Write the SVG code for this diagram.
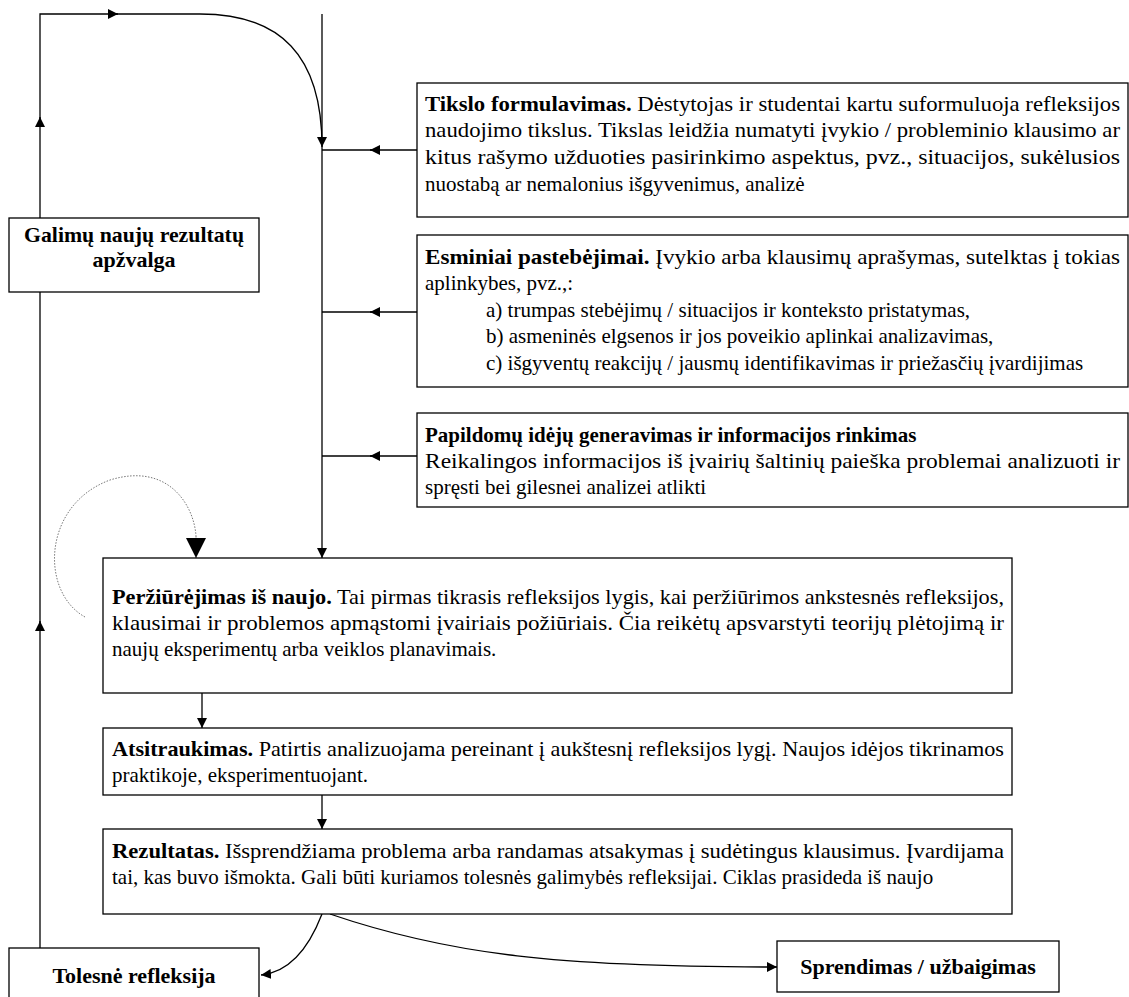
<svg xmlns="http://www.w3.org/2000/svg" width="1129" height="997" viewBox="0 0 1129 997">
  <style>
    .box { fill: #ffffff; stroke: #000000; stroke-width: 1.3; }
    .line { fill: none; stroke: #000000; stroke-width: 1.3; }
    .loop { fill: none; stroke: #777777; stroke-width: 1; stroke-dasharray: 1.5 1.5; }
    .t { font-family: "Liberation Serif", "Times New Roman", serif; font-size: 21px; fill: #000000; }
    .b { font-weight: bold; }
    .lbl { font-family: "Liberation Serif", "Times New Roman", serif; font-size: 22px; font-weight: bold; fill: #000000; }
  </style>
  <defs>
    <marker id="arr" viewBox="0 0 10 10" refX="10" refY="5" markerWidth="10" markerHeight="10" markerUnits="userSpaceOnUse" orient="auto">
      <path d="M0,0 L10,5 L0,10 Z" fill="#000000"/>
    </marker>
    <marker id="arrBig" viewBox="0 0 10 10" refX="10" refY="5" markerWidth="22" markerHeight="20" markerUnits="userSpaceOnUse" orient="auto">
      <path d="M0,0 L10,5 L0,10 Z" fill="#000000"/>
    </marker>
  </defs>

  <!-- connectors -->
  <g id="connectors">
    <!-- return loop from the top-left box to the central line -->
    <path class="line" d="M40,218 L40,117" marker-end="url(#arr)"/>
    <path class="line" d="M40,125 L40,14 L118,14" marker-end="url(#arr)"/>
    <path class="line" d="M110,14 L200,14 C280,14 322,55 322,147" marker-end="url(#arr)"/>
    <!-- central vertical line -->
    <path class="line" d="M322,14 L322,558" marker-end="url(#arr)"/>
    <!-- side boxes feeding the central line -->
    <path class="line" d="M417,150 L370,150" marker-end="url(#arr)"/>
    <path class="line" d="M375,150 L322,150"/>
    <path class="line" d="M417,312 L370,312" marker-end="url(#arr)"/>
    <path class="line" d="M375,312 L322,312"/>
    <path class="line" d="M417,456 L370,456" marker-end="url(#arr)"/>
    <path class="line" d="M375,456 L322,456"/>
    <!-- self loop on the review step -->
    <path class="loop" d="M85,617 C40,592 42,505 110,480 C168,462 194,505 196,536"/>
    <path class="loop" d="M196,536 L196,558" stroke="none" marker-end="url(#arrBig)"/>
    <!-- main chain -->
    <path class="line" d="M202,693 L202,728" marker-end="url(#arr)"/>
    <path class="line" d="M322,795 L322,829" marker-end="url(#arr)"/>
    <!-- left return line from the bottom-left box -->
    <path class="line" d="M40,948 L40,621" marker-end="url(#arr)"/>
    <path class="line" d="M40,630 L40,292"/>
    <!-- exits from the result box -->
    <path class="line" d="M322,914 C310,945 292,972 261,975" marker-end="url(#arr)"/>
    <path class="line" d="M330,914 C450,955 560,967 777,967" marker-end="url(#arr)"/>
  </g>

  <g id="node-galimu">
    <rect class="box" x="9" y="218" width="250" height="74"/>
    <text class="lbl" x="134" y="242" text-anchor="middle" textLength="220" lengthAdjust="spacingAndGlyphs">Galimų naujų rezultatų</text>
    <text class="lbl" x="134" y="267" text-anchor="middle">apžvalga</text>
  </g>

  <g id="node-tikslo">
    <rect class="box" x="417" y="83" width="711" height="134"/>
    <text class="t" x="425" y="111" textLength="695" lengthAdjust="spacingAndGlyphs"><tspan class="b">Tikslo formulavimas.</tspan> Dėstytojas ir studentai kartu suformuluoja refleksijos</text>
    <text class="t" x="425" y="137" textLength="695" lengthAdjust="spacingAndGlyphs">naudojimo tikslus. Tikslas leidžia numatyti įvykio / probleminio klausimo ar</text>
    <text class="t" x="425" y="164" textLength="695" lengthAdjust="spacingAndGlyphs">kitus rašymo užduoties pasirinkimo aspektus, pvz., situacijos, sukėlusios</text>
    <text class="t" x="425" y="191">nuostabą ar nemalonius išgyvenimus, analizė</text>
  </g>

  <g id="node-esminiai">
    <rect class="box" x="417" y="235" width="711" height="152"/>
    <text class="t" x="425" y="264" textLength="695" lengthAdjust="spacingAndGlyphs"><tspan class="b">Esminiai pastebėjimai.</tspan> Įvykio arba klausimų aprašymas, sutelktas į tokias</text>
    <text class="t" x="425" y="290">aplinkybes, pvz.,:</text>
    <text class="t" x="486" y="317">a) trumpas stebėjimų / situacijos ir konteksto pristatymas,</text>
    <text class="t" x="486" y="343">b) asmeninės elgsenos ir jos poveikio aplinkai analizavimas,</text>
    <text class="t" x="486" y="370">c) išgyventų reakcijų / jausmų identifikavimas ir priežasčių įvardijimas</text>
  </g>

  <g id="node-papildomu">
    <rect class="box" x="417" y="413" width="711" height="94"/>
    <text class="t b" x="425" y="442">Papildomų idėjų generavimas ir informacijos rinkimas</text>
    <text class="t" x="425" y="468" textLength="695" lengthAdjust="spacingAndGlyphs">Reikalingos informacijos iš įvairių šaltinių paieška problemai analizuoti ir</text>
    <text class="t" x="425" y="494">spręsti bei gilesnei analizei atlikti</text>
  </g>

  <g id="node-perziurejimas">
    <rect class="box" x="103" y="558" width="909" height="135"/>
    <text class="t" x="112" y="604" textLength="892" lengthAdjust="spacingAndGlyphs"><tspan class="b">Peržiūrėjimas iš naujo.</tspan> Tai pirmas tikrasis refleksijos lygis, kai peržiūrimos ankstesnės refleksijos,</text>
    <text class="t" x="112" y="630" textLength="892" lengthAdjust="spacingAndGlyphs">klausimai ir problemos apmąstomi įvairiais požiūriais. Čia reikėtų apsvarstyti teorijų plėtojimą ir</text>
    <text class="t" x="112" y="656">naujų eksperimentų arba veiklos planavimais.</text>
  </g>

  <g id="node-atsitraukimas">
    <rect class="box" x="103" y="728" width="909" height="67"/>
    <text class="t" x="112" y="756" textLength="892" lengthAdjust="spacingAndGlyphs"><tspan class="b">Atsitraukimas.</tspan> Patirtis analizuojama pereinant į aukštesnį refleksijos lygį. Naujos idėjos tikrinamos</text>
    <text class="t" x="112" y="782">praktikoje, eksperimentuojant.</text>
  </g>

  <g id="node-rezultatas">
    <rect class="box" x="103" y="829" width="909" height="85"/>
    <text class="t" x="112" y="858" textLength="892" lengthAdjust="spacingAndGlyphs"><tspan class="b">Rezultatas.</tspan> Išsprendžiama problema arba randamas atsakymas į sudėtingus klausimus. Įvardijama</text>
    <text class="t" x="112" y="884">tai, kas buvo išmokta. Gali būti kuriamos tolesnės galimybės refleksijai. Ciklas prasideda iš naujo</text>
  </g>

  <g id="node-tolesne">
    <rect class="box" x="9" y="948" width="250" height="60"/>
    <text class="lbl" x="134" y="983" text-anchor="middle">Tolesnė refleksija</text>
  </g>

  <g id="node-sprendimas">
    <rect class="box" x="777" y="941" width="282" height="51"/>
    <text class="lbl" x="918" y="974" text-anchor="middle">Sprendimas / užbaigimas</text>
  </g>
</svg>
